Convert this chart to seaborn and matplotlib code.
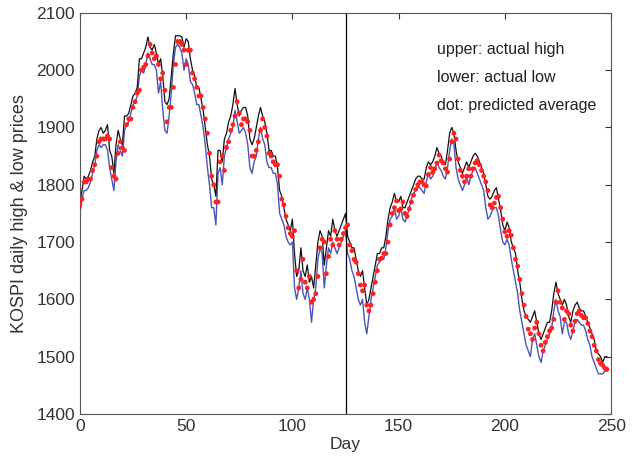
import numpy as np
import pandas as pd
import matplotlib
matplotlib.use("Agg")
import matplotlib.pyplot as plt
import seaborn as sns

high = [
    1770, 1790, 1815, 1810, 1815, 1825, 1840, 1850, 1880, 1895,
    1900, 1890, 1895, 1905, 1860, 1850, 1820, 1870, 1895, 1880,
    1870, 1920, 1920, 1925, 1940, 1955, 1960, 1970, 2020, 2020,
    2030, 2040, 2058, 2040, 2035, 2045, 2030, 2010, 2020, 1990,
    1945, 1940, 1950, 1990, 2030, 2060, 2060, 2060, 2058, 2040,
    2055, 2050, 2020, 2000, 1990, 1970, 1970, 1950, 1930, 1900,
    1870, 1850, 1810, 1800, 1780, 1860, 1860, 1840, 1880, 1890,
    1910, 1920, 1940, 1968, 1940, 1920, 1930, 1935, 1935, 1920,
    1880, 1870, 1880, 1900, 1920, 1935, 1920, 1910, 1890, 1860,
    1860, 1850, 1850, 1830, 1790, 1780, 1760, 1740, 1730, 1720,
    1740, 1680, 1640, 1650, 1690, 1650, 1640, 1660, 1630, 1640,
    1620, 1660, 1700, 1720, 1710, 1660, 1690, 1720, 1710, 1740,
    1720, 1710, 1720, 1730, 1740, 1750, 1710, 1700, 1690, 1690,
    1670, 1650, 1640, 1650, 1620, 1590, 1600, 1620, 1640, 1660,
    1680, 1680, 1690, 1690, 1710, 1740, 1760, 1770, 1785, 1770,
    1770, 1780, 1760, 1760, 1770, 1780, 1790, 1800, 1810, 1815,
    1815, 1810, 1810, 1830, 1840, 1835, 1840, 1850, 1865, 1855,
    1850, 1840, 1835, 1860, 1890, 1900, 1890, 1860, 1840, 1830,
    1820, 1830, 1840, 1830, 1840, 1850, 1855, 1850, 1840, 1830,
    1820, 1800, 1780, 1775, 1780, 1790, 1795, 1775, 1755, 1730,
    1720, 1735, 1725, 1700, 1690, 1680, 1650, 1630, 1600, 1580,
    1570, 1565, 1560, 1570, 1580, 1560, 1540, 1530, 1540, 1550,
    1560, 1560, 1580, 1610, 1630, 1610, 1600, 1590, 1600, 1590,
    1570, 1560, 1580, 1590, 1595, 1585, 1580, 1580, 1570, 1560,
    1550, 1540, 1530, 1510, 1505, 1500, 1490, 1500, 1500,
]

low = [
    1750, 1775, 1790, 1790, 1795, 1805, 1820, 1835, 1860, 1870,
    1865, 1870, 1870, 1860, 1830, 1810, 1790, 1840, 1870, 1860,
    1850, 1895, 1905, 1910, 1925, 1940, 1945, 1955, 1990, 2000,
    1995, 2010, 2030, 2020, 2010, 2010, 2000, 1960, 1980, 1930,
    1895, 1890, 1920, 1960, 2010, 2040, 2045, 2040, 2030, 2000,
    2020, 2010, 1980, 1975, 1960, 1940, 1940, 1920, 1900, 1870,
    1830, 1800, 1760, 1760, 1730, 1820, 1830, 1800, 1850, 1865,
    1880, 1890, 1900, 1930, 1910, 1890, 1895, 1900, 1890, 1870,
    1830, 1820, 1840, 1850, 1880, 1900, 1880, 1870, 1840, 1830,
    1830, 1820, 1820, 1800, 1750, 1740, 1730, 1710, 1700, 1695,
    1700, 1620, 1600, 1620, 1650, 1610, 1600, 1620, 1600, 1560,
    1600, 1620, 1670, 1690, 1680, 1620, 1660, 1690, 1680, 1700,
    1690, 1680, 1690, 1700, 1710, 1720, 1680, 1670, 1650, 1640,
    1620, 1600, 1590, 1600, 1560, 1540, 1570, 1600, 1620, 1640,
    1660, 1665, 1670, 1670, 1690, 1720, 1740, 1745, 1760, 1740,
    1745, 1760, 1740, 1735, 1745, 1760, 1775, 1785, 1790, 1795,
    1795, 1790, 1785, 1805, 1820, 1810, 1815, 1825, 1840, 1830,
    1825, 1815, 1810, 1830, 1860, 1880, 1870, 1830, 1810, 1800,
    1790, 1800, 1815, 1800, 1815, 1825, 1830, 1820, 1810, 1800,
    1790, 1760, 1740, 1745, 1755, 1760, 1760, 1745, 1720, 1700,
    1695, 1705, 1695, 1670, 1650, 1630, 1610, 1580, 1560, 1540,
    1520, 1510, 1500, 1530, 1540, 1520, 1500, 1490, 1510, 1520,
    1530, 1540, 1550, 1580, 1600, 1580, 1570, 1540, 1560, 1560,
    1540, 1530, 1545, 1560, 1565, 1560, 1555, 1555, 1545, 1530,
    1520, 1500, 1490, 1480, 1470, 1470, 1470, 1475, 1475,
]

pred = [
    1765, 1775, 1805, 1805, 1810, 1810, 1825, 1835, 1850, 1875,
    1880, 1880, 1880, 1885, 1880, 1830, 1815, 1810, 1855, 1875,
    1865, 1860, 1905, 1915, 1915, 1935, 1945, 1960, 1965, 2000,
    2005, 2010, 2025, 2045, 2030, 2020, 2025, 2010, 1985, 1995,
    1965, 1910, 1935, 1935, 1970, 2010, 2050, 2050, 2045, 2035,
    2010, 2035, 2035, 1995, 1985, 1970, 1955, 1955, 1935, 1915,
    1890, 1855, 1815, 1800, 1770, 1770, 1840, 1850, 1825, 1865,
    1875, 1895, 1905, 1920, 1945, 1925, 1905, 1915, 1915, 1910,
    1895, 1850, 1850, 1860, 1875, 1895, 1915, 1900, 1885, 1855,
    1850, 1840, 1835, 1835, 1815, 1775, 1765, 1745, 1725, 1715,
    1710, 1720, 1650, 1620, 1635, 1670, 1630, 1620, 1640, 1595,
    1600, 1610, 1640, 1690, 1705, 1700, 1645, 1675, 1705, 1695,
    1720, 1705, 1695, 1705, 1715, 1725, 1730, 1695, 1685, 1670,
    1665, 1645, 1625, 1615, 1625, 1590, 1580, 1590, 1610, 1630,
    1650, 1670, 1672, 1680, 1680, 1700, 1730, 1750, 1760, 1772,
    1755, 1758, 1770, 1750, 1745, 1758, 1770, 1782, 1792, 1800,
    1805, 1805, 1800, 1798, 1818, 1830, 1822, 1828, 1838, 1852,
    1842, 1838, 1828, 1822, 1845, 1875, 1890, 1880, 1845, 1825,
    1815, 1805, 1815, 1828, 1815, 1828, 1838, 1842, 1835, 1825,
    1815, 1805, 1790, 1765, 1760, 1768, 1778, 1780, 1760, 1740,
    1718, 1710, 1720, 1712, 1690, 1670, 1658, 1635, 1610, 1590,
    1570, 1548, 1540, 1530, 1550, 1560, 1540, 1520, 1510, 1525,
    1535, 1545, 1550, 1565, 1595, 1615, 1595, 1585, 1565, 1580,
    1575, 1555, 1545, 1562, 1575, 1580, 1572, 1568, 1568, 1558,
    1545, 1535, 1520, 1510, 1495, 1488, 1485, 1480, 1478,
]

split_day = 125
labels = ["upper: actual high", "lower: actual low", "dot: predicted average"]

days = np.arange(len(high))
df = pd.DataFrame({"day": days, "high": high, "low": low, "pred": pred})

sns.set_style("white")
plt.rcParams["font.family"] = ["Liberation Sans", "DejaVu Sans"]

fig = plt.figure(figsize=(6.34, 4.61), dpi=100)
ax = fig.add_axes([0.126, 0.102, 0.838, 0.870])

sns.lineplot(data=df, x="day", y="low", ax=ax, color="#4a55b8", linewidth=1.0)
sns.lineplot(data=df, x="day", y="high", ax=ax, color="#111111", linewidth=0.9)
sns.scatterplot(data=df, x="day", y="pred", ax=ax, color="#ff2020", s=12,
                edgecolor="none", zorder=3)
ax.axvline(split_day, color="black", linewidth=0.9)

ax.set_xlim(0, 250)
ax.set_ylim(1400, 2100)
ax.set_xticks(np.arange(0, 251, 50))
ax.set_yticks(np.arange(1400, 2101, 100))
ax.tick_params(direction="in", top=True, right=True, length=4, labelsize=12.5,
               colors="#333333", width=0.8)
for s in ax.spines.values():
    s.set_color("#555555")
    s.set_linewidth(0.8)
ax.set_xlabel("Day", fontsize=12.5, color="#333333", labelpad=2)
ax.set_ylabel("KOSPI daily high & low prices", fontsize=13, color="#333333",
              labelpad=6)

for i, t in enumerate(labels):
    ax.text(0.672, 0.908 - i * 0.07, t, transform=ax.transAxes, fontsize=11.5,
            color="#222222", va="center", ha="left")

fig.savefig("out.png", dpi=100)
